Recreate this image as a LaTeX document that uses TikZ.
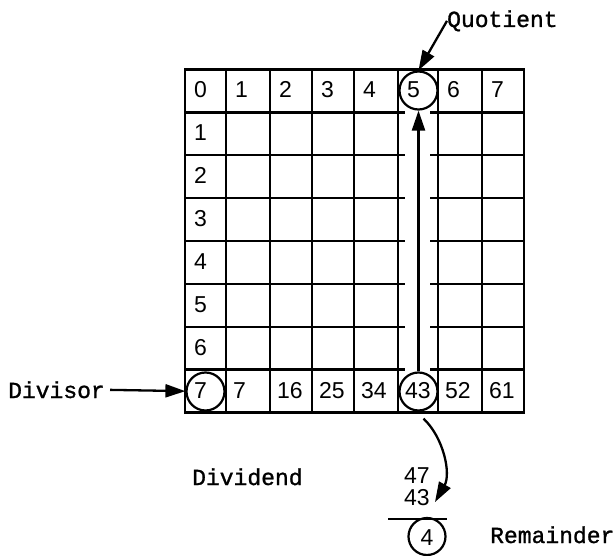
\documentclass[tikz,border=0pt]{standalone}
\usepackage{fontspec}
\setmainfont{Liberation Sans}
\newfontfamily\monofam[FakeBold=1.2]{Liberation Mono}
\usetikzlibrary{arrows.meta}
\begin{document}
\begin{tikzpicture}[x=1pt,y=-1pt,
  gridline/.style={line width=2.3pt},
  dig/.style={font=\fontsize{23}{23}\selectfont, inner sep=0pt, anchor=base west},
  lab/.style={font=\monofam\fontsize{23}{23}\selectfont, inner sep=0pt, anchor=base west},
  circ/.style={circle, draw, line width=2.2pt, minimum size=38pt, inner sep=0pt},
  arr/.style={line width=2.3pt, -{Triangle[length=20pt,width=13pt]}},
]
\useasboundingbox (0,0) rectangle (616,556);
% grid
\draw[gridline] (185,69.5) rectangle (524,412.5);
\foreach \x in {226,270,312,354,398,438,482}
  \draw[gridline] (\x,69.5) -- (\x,412.5);
\foreach \y in {112.4,155.3,198.1,241,283.9,326.8,369.6}{
  \draw[gridline] (185,\y) -- (405,\y);
  \draw[gridline] (430,\y) -- (524,\y);
}
% top row
\foreach \x/\t [count=\i] in {185/0,226/1,270/2,312/3,354/4,398/5,438/6,482/7}
  \node[dig] (t\i) at (\x+9,98) {\t};
% left column
\foreach \y/\t [count=\i] in {112.4/1,155.3/2,198.1/3,241/4,283.9/5,326.8/6,369.6/7}
  \node[dig] (l\i) at (194,\y+28.5) {\t};
% bottom row
\foreach \x/\t [count=\i] in {226/7,270/16,312/25,354/34,398/43,438/52,482/61}
  \node[dig] (b\i) at (\x+7,398.1) {\t};
% circles
\node[circ] (c5) at (418.5,90.5) {};
\node[circ] (c7) at (205.5,391.5) {};
\node[circ] (c43) at (418.5,391.5) {};
% labels
\node[lab] (quot) at (447,27) {Quotient};
\node[lab] (div) at (8,398) {Divisor};
\node[lab] (divd) at (192,485) {Dividend};
\node[lab] (rem) at (490,543) {Remainder};
% subtraction
\node[dig] (n47) at (404,483) {47};
\node[dig] (n43) at (404,505) {43};
\draw[gridline] (388,519) -- (447,519);
\node[circ, minimum size=37pt] (c4) at (427,536.5) {};
\node[dig, anchor=base] (n4) at (427,545) {4};
% arrows
\draw[arr] (quot.west) -- (c5.north);
\draw[arr, shorten <=5pt] (div.east) -- (c7);
\draw[arr] (c43) -- (c5);
\draw[arr] ([shift={(5,7)}]c43.south) .. controls (444,438) and (451,474) .. ([shift={(5,5)}]n43.east);
\end{tikzpicture}
\end{document}
